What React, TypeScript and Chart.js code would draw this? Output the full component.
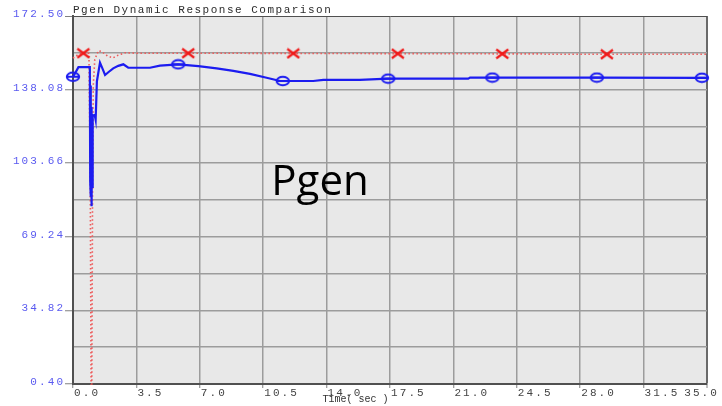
import React, { useEffect, useRef } from "react";
import { Chart, registerables } from "chart.js";

Chart.register(...registerables);

const chartTitle = "Pgen Dynamic Response Comparison";
const xAxisTitle = "Time( sec )";
const overlayLabel = "Pgen";

const xTickValues = [0, 3.5, 7, 10.5, 14, 17.5, 21, 24.5, 28, 31.5, 35];
const xTickLabels = ["0.0", "3.5", "7.0", "10.5", "14.0", "17.5", "21.0", "24.5", "28.0", "31.5", "35.0"];
const yTickValues = [0.4, 17.61, 34.82, 52.03, 69.24, 86.45, 103.66, 120.87, 138.08, 155.29, 172.5];
const yTickLabels = ["0.40", "", "34.82", "", "69.24", "", "103.66", "", "138.08", "", "172.50"];

// Blue (solid, circle markers)
const blueTime = [0, 0.1, 0.3, 0.93, 0.95, 0.97, 0.99, 1.0, 1.01, 1.03, 1.04, 1.06, 1.07, 1.09, 1.1, 1.2, 1.25, 1.32, 1.49, 1.6, 1.77, 1.95, 2.22, 2.5, 2.78, 3.05, 4.25, 4.8, 5.81, 6.92, 7.93, 8.85, 9.77, 10.69, 11.43, 11.58, 13.26, 13.82, 15.84, 17.4, 18.42, 21.82, 21.92, 23.15, 28.92, 34.72, 35];
const bluePgen = [144.1, 145.5, 148.6, 148.6, 95, 140, 88, 130, 83.5, 126, 86, 124, 92, 126, 126, 126.2, 124, 142, 150.7, 148.5, 144.9, 146.2, 148.0, 149.2, 149.9, 148.3, 148.3, 149.3, 149.9, 149.1, 148.0, 146.8, 145.4, 143.6, 142.1, 142.1, 142.1, 142.6, 142.6, 143.2, 143.2, 143.2, 143.7, 143.7, 143.7, 143.6, 143.6];
const blueMarkerTime = [0, 5.81, 11.58, 17.4, 23.15, 28.92, 34.72];

// Red (dotted, cross markers)
const redTime = [0, 0.3, 0.57, 0.88, 0.95, 1.0, 1.04, 1.08, 1.12, 1.2, 1.4, 1.6, 1.9, 2.2, 2.5, 2.9, 3.5, 6.36, 12.16, 17.93, 23.7, 26.0, 26.1, 29.47, 35];
const redPgen = [152.8, 154.6, 155.1, 155.1, 100, 0.4, 0.4, 90, 140, 152, 156.3, 155.8, 153.8, 152.9, 154.2, 155.3, 155.1, 155.1, 155.0, 154.9, 154.8, 154.8, 154.6, 154.6, 154.6];
const redMarkerTime = [0.57, 6.36, 12.16, 17.93, 23.7, 29.47];

function makeEllipse(): HTMLCanvasElement {
  const c = document.createElement("canvas");
  c.width = 16;
  c.height = 12;
  const g = c.getContext("2d")!;
  g.strokeStyle = "#1c1cf0";
  g.lineWidth = 2;
  g.beginPath();
  g.ellipse(8, 6, 6.2, 4.2, 0, 0, Math.PI * 2);
  g.stroke();
  g.beginPath();
  g.moveTo(2, 6);
  g.lineTo(14, 6);
  g.stroke();
  return c;
}

function makeCross(): HTMLCanvasElement {
  const c = document.createElement("canvas");
  c.width = 16;
  c.height = 12;
  const g = c.getContext("2d")!;
  g.strokeStyle = "#f01818";
  g.lineWidth = 2.2;
  g.beginPath();
  g.moveTo(2, 1.5);
  g.lineTo(14, 10.5);
  g.moveTo(2, 10.5);
  g.lineTo(14, 1.5);
  g.stroke();
  return c;
}

const framePlugin = {
  id: "frame",
  beforeDraw(chart: any) {
    const { ctx, chartArea: a } = chart;
    ctx.save();
    ctx.fillStyle = "#ffffff";
    ctx.fillRect(0, 0, chart.width, chart.height);
    ctx.fillStyle = "#e8e8e8";
    ctx.fillRect(a.left, a.top, a.right - a.left, a.bottom - a.top);
    ctx.restore();
  },
  afterDraw(chart: any) {
    const { ctx, chartArea: a } = chart;
    const xs = chart.scales.x;
    const ys = chart.scales.y;
    ctx.save();
    // title
    ctx.letterSpacing = "1.5px";
    ctx.font = '11px "Liberation Mono", monospace';
    ctx.fillStyle = "#2c2c2c";
    ctx.textAlign = "left";
    ctx.textBaseline = "alphabetic";
    ctx.fillText(chartTitle, a.left, a.top - 3);

    // y tick labels
    ctx.letterSpacing = "2.1px";
    ctx.font = '11px "Liberation Mono", monospace';
    ctx.fillStyle = "#5a5af0";
    ctx.textAlign = "right";
    yTickValues.forEach((v, i) => {
      const l = yTickLabels[i];
      if (!l) return;
      ctx.fillText(l, a.left - 10 + 2.1, ys.getPixelForValue(v) + 1);
    });

    // x tick labels
    ctx.fillStyle = "#444444";
    ctx.textAlign = "left";
    xTickValues.forEach((v, i) => {
      const l = xTickLabels[i];
      const w = ctx.measureText(l).width;
      const px = xs.getPixelForValue(v);
      const x = Math.min(px + 1, chart.width - w - 3);
      ctx.fillText(l, x, a.bottom + 12);
    });

    // axis title
    ctx.letterSpacing = "0px";
    ctx.font = '10px "Liberation Mono", monospace';
    ctx.fillStyle = "#333333";
    ctx.textAlign = "center";
    ctx.fillText(xAxisTitle, xs.getPixelForValue(15.6), a.bottom + 18);

    // overlay label
    ctx.font = '42px "Open Sans", sans-serif';
    ctx.fillStyle = "#000000";
    ctx.textAlign = "left";
    ctx.fillText(overlayLabel, xs.getPixelForValue(10.95), ys.getPixelForValue(89));
    ctx.restore();
  },
};

export default function App() {
  const ref = useRef<HTMLCanvasElement | null>(null);

  useEffect(() => {
    document.body.style.margin = "0";
    const canvas = ref.current!;
    const ellipse = makeEllipse();
    const cross = makeCross();

    const chart = new Chart(canvas, {
      type: "line",
      data: {
        datasets: [
          {
            label: "Pgen A",
            data: blueTime.map((t, i) => ({ x: t, y: bluePgen[i] })),
            borderColor: "#1c1cf0",
            borderWidth: 2.2,
            tension: 0,
            pointStyle: ellipse as any,
            pointRadius: (c: any) => (c.raw && blueMarkerTime.includes(c.raw.x) ? 6 : 0),
            pointHoverRadius: 0,
            clip: false as any,
          },
          {
            label: "Pgen B",
            data: redTime.map((t, i) => ({ x: t, y: redPgen[i] })),
            borderColor: "#ee5a5a",
            borderWidth: 1.6,
            borderDash: [1.5, 2.5],
            tension: 0,
            pointStyle: cross as any,
            pointRadius: (c: any) => (c.raw && redMarkerTime.includes(c.raw.x) ? 6 : 0),
            pointHoverRadius: 0,
            clip: false as any,
          },
        ],
      },
      options: {
        animation: false,
        responsive: false,
        devicePixelRatio: 1,
        events: [],
        layout: { padding: { left: 0, right: 15, top: 16, bottom: 0 } },
        plugins: {
          legend: { display: false },
          tooltip: { enabled: false },
          title: { display: false },
        },
        scales: {
          x: {
            type: "linear",
            min: 0,
            max: 35,
            afterBuildTicks: (s: any) => {
              s.ticks = xTickValues.map((v) => ({ value: v }));
            },
            afterFit: (s: any) => {
              s.height = 22;
              s.paddingLeft = 0;
              s.paddingRight = 0;
            },
            ticks: { display: false },
            grid: {
              color: (c: any) => (c.tick && c.tick.value === 35 ? "#6a6a6a" : "#9c9c9c"),
              lineWidth: (c: any) => (c.tick && c.tick.value === 35 ? 2 : 1.5),
              drawTicks: true,
              tickLength: 4,
              tickColor: "#808080",
              tickWidth: 1,
            },
            border: { color: "#505050", width: 2 },
          },
          y: {
            type: "linear",
            min: 0.4,
            max: 172.5,
            afterBuildTicks: (s: any) => {
              s.ticks = yTickValues.map((v) => ({ value: v }));
            },
            afterFit: (s: any) => {
              s.width = 73;
              s.paddingTop = 0;
              s.paddingBottom = 0;
            },
            ticks: { display: false },
            grid: {
              color: (c: any) => (c.tick && c.tick.value === 172.5 ? "#505050" : "#9c9c9c"),
              lineWidth: (c: any) => (c.tick && c.tick.value === 172.5 ? 1 : 1.5),
              drawTicks: true,
              tickLength: 8,
              tickColor: (c: any) =>
                c.tick && yTickLabels[yTickValues.indexOf(c.tick.value)] ? "#808080" : "rgba(0,0,0,0)",
              tickWidth: 1,
            },
            border: { color: "#505050", width: 2 },
          },
        },
      },
      plugins: [framePlugin],
    });
    return () => chart.destroy();
  }, []);

  return <canvas ref={ref} width={722} height={406} style={{ display: "block" }} />;
}
